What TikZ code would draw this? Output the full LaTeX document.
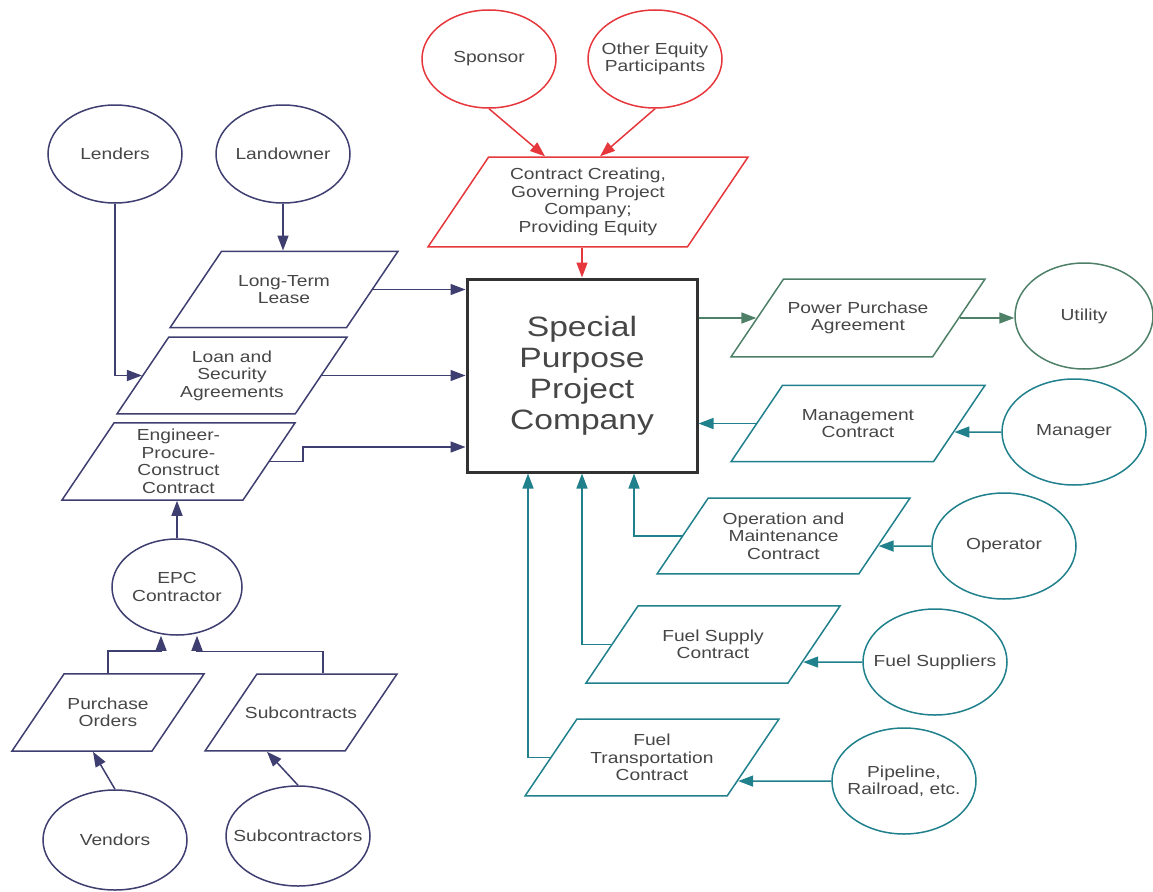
\documentclass[tikz,border=0pt]{standalone}
\usepackage{fontspec}
\setmainfont[FakeStretch=1.2]{Liberation Sans}
\usetikzlibrary{arrows.meta,shapes.geometric}
\definecolor{spred}{RGB}{230,55,60}
\definecolor{spnavy}{RGB}{62,62,112}
\definecolor{spgreen}{RGB}{78,128,104}
\definecolor{spteal}{RGB}{32,128,140}
\definecolor{spgray}{RGB}{70,70,70}
\definecolor{spbox}{RGB}{50,50,50}
\newcommand{\smtxt}{\fontsize{16}{17.5}\selectfont}
\newcommand{\bigtxt}{\fontsize{28}{31}\selectfont}
\tikzset{ent/.style = {ellipse, draw=#1, line width=1.5pt, inner sep=0pt, minimum width=144pt, minimum height=106pt},
         lft/.style = {minimum width=134pt, minimum height=98pt},
         etx/.style = {align=center, text=spgray, font=\smtxt},
         doc/.style = {trapezium, trapezium left angle=56, trapezium right angle=124, trapezium stretches body,
                       draw=#1, line width=1.5pt, inner xsep=-20pt, inner ysep=23.9pt, minimum width=254pt,
                       minimum height=0pt, align=center, text=spgray, font=\smtxt},
         spv/.style = {rectangle, draw=spbox, line width=3pt, minimum width=230pt, minimum height=193pt,
                       align=center, text=spgray, font=\bigtxt},
         con/.style = {->, draw=#1, line width=1.5pt}}

\begin{document}
\begin{tikzpicture}[x=1pt, y=-1pt, >={Triangle[length=15pt, width=11pt]}]
    \useasboundingbox (0,0) rectangle (1153,891);
    \node[spv] (spc) at (582,375.5) {Special\\Purpose\\Project\\Company};
    \node[ent=spred, lft, label={[etx]center:Sponsor}] (spon) at (489,59) {};
    \node[ent=spred, lft, label={[etx]center:{Other Equity\\Participants}}] (oeq) at (655,59) {};
    \node[doc=spred, minimum width=320pt, inner ysep=11.2pt] (ceq) at (588,202) {Contract Creating,\\Governing Project\\Company;\\Providing Equity};
    \node[ent=spnavy, lft, label={[etx]center:Lenders}] (lend) at (115,154) {};
    \node[ent=spnavy, lft, label={[etx]center:Landowner}] (land) at (283,154) {};
    \node[doc=spnavy, minimum width=228pt] (ltl) at (284,289.5) {Long-Term\\Lease};
    \node[doc=spnavy, minimum width=230pt, inner ysep=13.4pt] (loan) at (232,375.5) {Loan and\\Security\\Agreements};
    \node[doc=spnavy, minimum width=233pt, inner ysep=6.4pt] (epc) at (178.5,461.5) {Engineer-\\Procure-\\Construct\\Contract};
    \node[ent=spnavy, minimum width=130pt, minimum height=96pt, label={[etx]center:{EPC\\Contractor}}] (epcc) at (177,587) {};
    \node[doc=spnavy, minimum width=192pt] (po) at (108,712.5) {Purchase\\Orders};
    \node[doc=spnavy, minimum width=192pt, inner ysep=32.6pt] (subk) at (301,712.5) {Subcontracts};
    \node[ent=spnavy, minimum height=100pt, label={[etx]center:Vendors}] (vend) at (115,840) {};
    \node[ent=spnavy, minimum height=100pt, label={[etx]center:Subcontractors}] (subs) at (298,836) {};
    \node[doc=spgreen, inner ysep=22.7pt] (ppa) at (858,318) {Power Purchase\\Agreement};
    \node[ent=spgreen, minimum width=138pt, label={[etx]center:Utility}] (util) at (1084,316) {};
    \node[doc=spteal] (mc) at (858,423.5) {Management\\Contract};
    \node[ent=spteal, label={[etx]center:Manager}] (mgr) at (1074,432) {};
    \node[doc=spteal, minimum width=253pt, inner ysep=14.6pt] (om) at (783.5,536) {Operation and\\Maintenance\\Contract};
    \node[ent=spteal, label={[etx]center:Operator}] (opr) at (1004,546) {};
    \node[doc=spteal] (fs) at (713,644.5) {Fuel Supply\\Contract};
    \node[ent=spteal, label={[etx]center:Fuel Suppliers}] (fsup) at (935,662) {};
    \node[doc=spteal, inner ysep=15.1pt] (ft) at (652,757.5) {Fuel\\Transportation\\Contract};
    \node[ent=spteal, label={[etx]center:{Pipeline,\\Railroad, etc.}}] (pipe) at (904,781) {};

    \draw[con=spred] (spon.south) -- ([xshift=-43pt]ceq.north);
    \draw[con=spred] (oeq.south) -- ([xshift=12pt]ceq.north);
    \draw[con=spred] (ceq.south -| spc.north) -- (spc.north);
    \draw[con=spnavy] (land.south) -- (land.south |- ltl.north);
    \draw[con=spnavy] (lend.south) |- (loan.left side);
    \draw[con=spnavy] (ltl.right side) -- (ltl.right side -| spc.west);
    \draw[con=spnavy] (loan.right side) -- (loan.right side -| spc.west);
    \draw[con=spnavy] (epc.right side) -- ++(33,0) |- ([yshift=-71.5pt]spc.west);
    \draw[con=spnavy] (epcc.north) -- (epcc.north |- epc.south);
    \draw[con=spnavy] (po.north) -- ++(0,-22) -| ([xshift=-16pt]epcc.south);
    \draw[con=spnavy] ([xshift=22pt]subk.north) -- ++(0,-22) -| ([xshift=20pt]epcc.south);
    \draw[con=spnavy] (vend.north) -- ([xshift=-15pt]po.south);
    \draw[con=spnavy] (subs.north) -- ([xshift=-34pt]subk.south);
    \draw[con=spgreen] (ppa.left side -| spc.east) -- (ppa.left side);
    \draw[con=spgreen] (ppa.right side) -- (ppa.right side -| util.west);
    \draw[con=spteal] (mc.left side) -- (mc.left side -| spc.east);
    \draw[con=spteal] (mgr.west) -- (intersection of mc.top right corner--mc.bottom right corner and mgr.west--mgr.center);
    \draw[con=spteal] (om.left side) -| ([xshift=52pt]spc.south);
    \draw[con=spteal] (opr.west) -- (intersection of om.top right corner--om.bottom right corner and opr.west--opr.center);
    \draw[con=spteal] (fs.left side) -| (spc.south);
    \draw[con=spteal] (fsup.west) -- (intersection of fs.top right corner--fs.bottom right corner and fsup.west--fsup.center);
    \draw[con=spteal] (ft.left side) -| ([xshift=-54pt]spc.south);
    \draw[con=spteal] (pipe.west) -- (intersection of ft.top right corner--ft.bottom right corner and pipe.west--pipe.center);
\end{tikzpicture}
\end{document}
